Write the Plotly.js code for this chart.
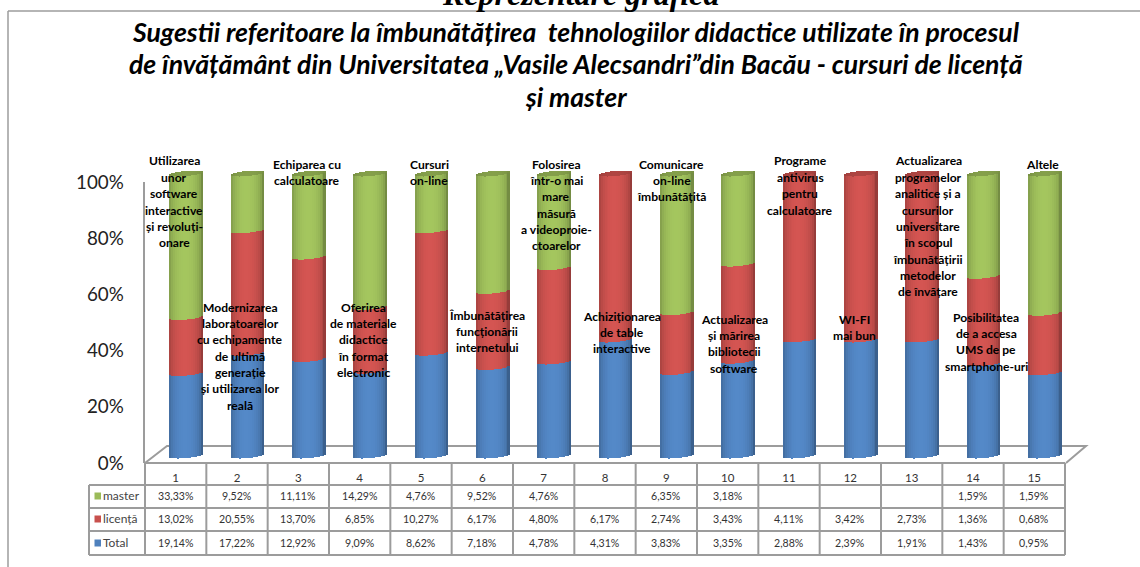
<!DOCTYPE html>
<html>
<head>
<meta charset="utf-8">
<script src="https://cdn.plot.ly/plotly-3.0.1.min.js"></script>
<style>html,body{margin:0;padding:0;background:#fff}#c{width:1140px;height:567px}</style>
</head>
<body>
<div id="c"></div>
<script>
// ---------- data ----------
const categories = ['1','2','3','4','5','6','7','8','9','10','11','12','13','14','15'];
const master  = [33.33,9.52,11.11,14.29,4.76,9.52,4.76,null,6.35,3.18,null,null,null,1.59,1.59];
const licenta = [13.02,20.55,13.70,6.85,10.27,6.17,4.80,6.17,2.74,3.43,4.11,3.42,2.73,1.36,0.68];
const total   = [19.14,17.22,12.92,9.09,8.62,7.18,4.78,4.31,3.83,3.35,2.88,2.39,1.91,1.43,0.95];
const seriesNames = ['master','licență','Total'];
const yTicks = [0,20,40,60,80,100];
const chartTitle = ['Sugestii referitoare la îmbunătățirea  tehnologiilor didactice utilizate în procesul',
  'de învățământ din Universitatea „Vasile Alecsandri”din Bacău - cursuri de licență',
  'și master'];
const pageHeading = 'Reprezentare grafică';
const labels = [
  ['Utilizarea','unor','software','interactive','și revoluți-','onare'],
  ['Modernizarea','laboratoarelor','cu echipamente','de ultimă','generație','și utilizarea lor','reală'],
  ['Echiparea cu','calculatoare'],
  ['Oferirea','de materiale','didactice','în format','electronic'],
  ['Cursuri','on-line'],
  ['Îmbunătățirea','funcționării','internetului'],
  ['Folosirea','într-o mai','mare','măsură','a videoproie-','ctoarelor'],
  ['Achiziționarea','de table','interactive'],
  ['Comunicare','on-line','îmbunătățită'],
  ['Actualizarea','și mărirea','bibliotecii','software'],
  ['Programe','antivirus','pentru','calculatoare'],
  ['WI-FI','mai bun'],
  ['Actualizarea','programelor','analitice și a','cursurilor','universitare','în scopul','îmbunătățirii','metodelor','de învățare'],
  ['Posibilitatea','de a accesa','UMS de pe','smartphone-uri'],
  ['Altele']
];
// layout only: pixel centre of each call-out and of its first line
const labelCx = [174,240,307,363,429,487,556,622,672,734,800,854,928,986,1042];
const labelTop = [161,307,164,307,164,315,164,316,164,319,161,319,161,317,164];

// ---------- geometry helpers ----------
const W = 1140, H = 567;
const px = x => x / W, py = y => 1 - y / H;
const tblL = 89, tblX = 145, tblR = 1065, colW = (tblR - tblX) / 15;
const rowY = [463, 485, 508, 531, 555];
const FONT = 'Lato, "Open Sans", sans-serif';
const GRID = '#9c9c9c';

// ---------- cylinders: vertical strips, shaded across the width ----------
const cols = {master:[155,187,89], lic:[200,80,77], tot:[79,129,189]};
function shade(c, u){
  const t = Math.abs(u + 0.05);
  const f = 0.70 + 0.36 * Math.sqrt(Math.max(0, 1 - t * t));
  return 'rgb(' + c.map(v => Math.min(255, Math.round(v * f))).join(',') + ')';
}
const capColor = {master:[125,150,70], lic:[165,65,62]};
const yPx = 282;                // px per unit on the bar axis
const pad = 0.04;               // room on the bar axis for the curved ends
const cylW = 33.5 / colW;       // cylinder width in category units
const N = 17;
const sag = 2.6 / yPx, tilt = 1.5 / yPx;
const sums = categories.map((_, i) => (master[i]||0) + licenta[i] + total[i]);
const xIdx = categories.map((_, i) => i + 1);
const traces = [];
// invisible trace that carries the category axis
traces.push({type:'scatter', mode:'markers', x:xIdx, y:xIdx.map(()=>0), xaxis:'x', yaxis:'y',
  marker:{opacity:0}, hoverinfo:'skip', showlegend:false});

for (let j = 0; j < N; j++) {
  const u = (j + 0.5) / N * 2 - 1;
  const front = -sag * Math.sqrt(Math.max(0, 1 - u * u)) + tilt * u;
  const back  =  sag * Math.sqrt(Math.max(0, 1 - u * u)) + tilt * u;
  const x = xIdx.map(v => v + u * cylW / 2);
  const w = cylW / N + 0.004;
  const stack = [
    {name:seriesNames[2], key:'tot', vals:total,   from:() => 0},
    {name:seriesNames[1], key:'lic', vals:licenta, from:i => total[i] / sums[i]},
    {name:seriesNames[0], key:'master', vals:master.map(v => v || 0), from:i => (total[i] + licenta[i]) / sums[i]}
  ];
  stack.forEach(s => {
    traces.push({type:'bar', name:s.name, x, width:w,
      base: x.map((_, i) => s.from(i) + front),
      y: s.vals.map((v, i) => v / sums[i]),
      xaxis:'x2', yaxis:'y2', marker:{color:shade(cols[s.key], u), line:{width:0}},
      hoverinfo:'skip', showlegend:false});
  });
  // top cap of each cylinder, in the colour of its topmost segment
  traces.push({type:'bar', name:'cap', x, width:w,
    base: x.map(() => 1 + front),
    y: x.map(() => back - front),
    xaxis:'x2', yaxis:'y2',
    marker:{color:master.map(v => {
      const c = v ? capColor.master : capColor.lic;
      return 'rgb(' + c.map(q => Math.round(q * (0.92 + 0.14 * Math.sqrt(Math.max(0,1-u*u))))).join(',') + ')';
    }), line:{width:0}},
    hoverinfo:'skip', showlegend:false});
}

// ---------- annotations ----------
const annotations = [];
const txt = (text, x, y, size, opts) => annotations.push(Object.assign({
  text, xref:'paper', yref:'paper', x:px(x), y:py(y), showarrow:false,
  xanchor:'center', yanchor:'middle', font:{family:FONT, size, color:'#000'}
}, opts || {}));

txt('<b><i>' + pageHeading + '</i></b>', 580, -6, 32,
  {font:{family:'"Liberation Serif", serif', size:32, color:'#000'}, yanchor:'middle'});
[32, 64, 97].forEach((y, k) => txt('<b><i>' + chartTitle[k] + '</i></b>', 576, y, 26.6));

labels.forEach((lines, i) => lines.forEach((ln, k) =>
  txt('<b>' + ln + '</b>', labelCx[i], labelTop[i] + k * 16.35, 12.1)));

// table values
const fmt = v => v == null ? '' : v.toFixed(2).replace('.', ',') + '%';
[master, licenta, total].forEach((arr, r) => {
  const cy = [496, 519, 543][r];
  arr.forEach((v, i) => { if (v != null) {
    annotations.push({text:fmt(v), xref:'x', yref:'paper', x:i + 1, y:py(cy), showarrow:false,
      xanchor:'center', yanchor:'middle', font:{family:FONT, size:10.6, color:'#333'}});
  }});
  txt(seriesNames[r], 100.5, cy - 0.5, 12, {xanchor:'left', font:{family:FONT, size:12, color:'#444'}});
});

// ---------- chart furniture ----------
const shapes = [];
const line = (x0, y0, x1, y1, w) => shapes.push({type:'line', xref:'paper', yref:'paper', layer:'below',
  x0:px(x0), y0:py(y0), x1:px(x1), y1:py(y1), line:{color:GRID, width:w || 2}});
line(8, 11, 1140, 11, 1.5);
line(8, 11, 8, 567, 1.5);
shapes.push({type:'path', xref:'paper', yref:'paper', layer:'below', line:{color:GRID, width:2},
  path:`M ${px(145)} ${py(463)} L ${px(167)} ${py(446)} L ${px(1086)} ${py(446)} L ${px(1066)} ${py(463)}`});
rowY.forEach((y, k) => line(k === 0 ? tblX : tblL, y, tblR, y));
for (let i = 0; i <= 15; i++) line(tblX + i * colW, rowY[0], tblX + i * colW, rowY[4]);
line(tblL, rowY[1], tblL, rowY[4]);
[['master',496],['lic',519],['tot',543]].forEach(([k, y]) => shapes.push({type:'rect', xref:'paper', yref:'paper',
  x0:px(94.5), x1:px(101), y0:py(y + 3.5), y1:py(y - 3.5), fillcolor:'rgb(' + cols[k].join(',') + ')', line:{width:0}}));

// ---------- layout ----------
const layout = {
  width:W, height:H, margin:{l:0, r:0, t:0, b:0}, paper_bgcolor:'#fff', plot_bgcolor:'rgba(0,0,0,0)',
  showlegend:false, barmode:'overlay', bargap:0, font:{family:FONT},
  xaxis:{domain:[px(tblX), px(tblR)], range:[0.5, 15.5], tickvals:xIdx, ticktext:categories,
    showgrid:false, zeroline:false, showline:false, ticks:'outside', ticklen:4, tickcolor:'rgba(0,0,0,0)',
    tickfont:{family:FONT, size:11.5, color:'#333'}, anchor:'y', fixedrange:true},
  yaxis:{domain:[py(463), py(182)], range:[0, 100], tickvals:yTicks, ticktext:yTicks.map(v => v + '%'),
    showgrid:false, zeroline:false, showline:true, linecolor:GRID, linewidth:2.5, ticks:'', ticklabelstandoff:15,
    tickfont:{family:FONT, size:18.8, color:'#222'}, anchor:'x', fixedrange:true},
  xaxis2:{domain:[px(tblX + 10.5), px(tblR + 10.5)], range:[0.5, 15.5], visible:false, anchor:'y2', fixedrange:true},
  yaxis2:{domain:[py(455.5 + pad * yPx), py(173.5 - pad * yPx)], range:[-pad, 1 + pad], visible:false, anchor:'x2', fixedrange:true},
  shapes, annotations
};
Plotly.newPlot('c', traces, layout, {displayModeBar:false, staticPlot:true});
</script>
</body>
</html>
